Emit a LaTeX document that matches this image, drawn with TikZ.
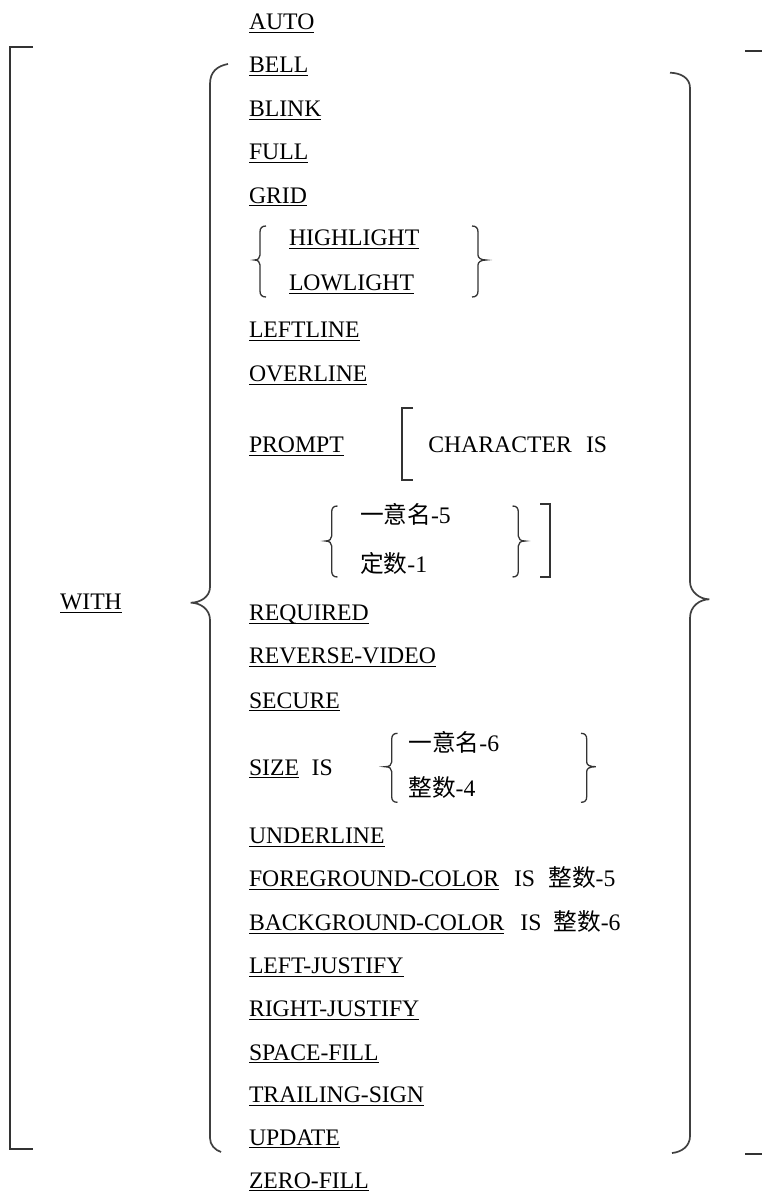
\documentclass[tikz,border=0pt]{standalone}
\usepackage{fontspec}
\setmainfont{Liberation Serif}
\newfontfamily\cjk{Noto Sans CJK SC}
\newcommand\myul[1]{\setbox0\hbox{#1}\rlap{\rule[-3.4pt]{\wd0}{1.2pt}}\box0}
\tikzset{
  lbl/.style={anchor=base west, inner sep=0pt, outer sep=0pt, font=\fontsize{23.7}{28}\selectfont, text=black},
  brk/.style={line width=1.8pt, draw=black!80},
  bigbrace/.style={line width=1.7pt, draw=black!75},
  smallbrace/.style={line width=1.3pt, draw=black!80},
}
\begin{document}
\begin{tikzpicture}[x=1pt,y=-1pt]
\useasboundingbox (0,0) rectangle (761,1191);
% main column
\node[lbl] (auto) at (249,29.3) {\myul{AUTO}};
\node[lbl] (bell) at (249,72.7) {\myul{BELL}};
\node[lbl] (blink) at (249,116.5) {\myul{BLINK}};
\node[lbl] (full) at (249,159.5) {\myul{FULL}};
\node[lbl] (grid) at (249,203) {\myul{GRID}};
\node[lbl] (high) at (289,245.7) {\myul{HIGHLIGHT}};
\node[lbl] (low) at (289,290.5) {\myul{LOWLIGHT}};
\node[lbl] (leftline) at (249,337.5) {\myul{LEFTLINE}};
\node[lbl] (overline) at (249,381.5) {\myul{OVERLINE}};
\node[lbl] (prompt) at (249,452.7) {\myul{PROMPT}};
\node[lbl] (charac) at (428.3,452.7) {CHARACTER};
\node[lbl] (is1) at (586,452.7) {IS};
\node[lbl] (id5) at (360,523) {{\cjk 一意名}-5};
\node[lbl] (const1) at (360,572.7) {{\cjk 定数}-1};
\node[lbl] (with) at (60,609.3) {\myul{WITH}};
\node[lbl] (required) at (249,620.5) {\myul{REQUIRED}};
\node[lbl] (reverse) at (249,663.7) {\myul{REVERSE-VIDEO}};
\node[lbl] (secure) at (249,708) {\myul{SECURE}};
\node[lbl] (size) at (249,775) {\myul{SIZE}};
\node[lbl] (is2) at (311.7,775) {IS};
\node[lbl] (id6) at (408.3,751) {{\cjk 一意名}-6};
\node[lbl] (int4) at (408.3,796.7) {{\cjk 整数}-4};
\node[lbl] (underline) at (249,843.3) {\myul{UNDERLINE}};
\node[lbl] (fore) at (249,886.7) {\myul{FOREGROUND-COLOR}};
\node[lbl] (is3) at (514,886.7) {IS};
\node[lbl] (int5) at (548.3,886.7) {{\cjk 整数}-5};
\node[lbl] (back) at (249,930.7) {\myul{BACKGROUND-COLOR}};
\node[lbl] (is4) at (520.4,930.7) {IS};
\node[lbl] (int6) at (553.4,930.7) {{\cjk 整数}-6};
\node[lbl] (ljust) at (249,973.3) {\myul{LEFT-JUSTIFY}};
\node[lbl] (rjust) at (249,1016.7) {\myul{RIGHT-JUSTIFY}};
\node[lbl] (space) at (249,1060) {\myul{SPACE-FILL}};
\node[lbl] (trail) at (249,1102.3) {\myul{TRAILING-SIGN}};
\node[lbl] (update) at (249,1145) {\myul{UPDATE}};
\node[lbl] (zero) at (249,1188) {\myul{ZERO-FILL}};
% outer square brackets
\draw[brk] (33,46.7) -- (10,46.7) -- (10,1149.3) -- (33,1149.3);
\draw[brk] (745,50.7) -- (765,50.7) -- (765,1154) -- (745,1154);
% big left brace
\draw[bigbrace] (228,64) .. controls (217,66) and (210,72) .. (210,84)
  -- (210,587) .. controls (210,597) and (200,602.7) .. (190.7,602.7)
  .. controls (200,602.7) and (210,609) .. (210,620)
  -- (210,1138) .. controls (210,1145) and (215,1150) .. (221,1152);
% big right brace
\draw[bigbrace] (670,72.7) .. controls (681,73) and (690,78) .. (690,88)
  -- (690,581.7) .. controls (690,592) and (700,599.3) .. (709.3,599.3)
  .. controls (700,599.3) and (690,606) .. (690,618)
  -- (690,1136) .. controls (690,1146) and (682,1152) .. (672,1153);
% HIGHLIGHT / LOWLIGHT braces
\draw[smallbrace] (266,226) .. controls (262,226) and (260,228) .. (260,232)
  -- (260,255) .. controls (260,258) and (258,260) .. (254.5,260)
  .. controls (258,260) and (260,262) .. (260,265)
  -- (260,291) .. controls (260,295) and (262,297) .. (266,297);
\draw[smallbrace] (472,226) .. controls (476,226) and (478,228) .. (478,232)
  -- (478,255) .. controls (478,258) and (481,260) .. (486,260)
  .. controls (481,260) and (478,262) .. (478,265)
  -- (478,291) .. controls (478,295) and (476,297) .. (472,297);
% PROMPT bracket
\draw[brk] (413,408) -- (401.7,408) -- (401.7,480) -- (413,480);
% id-5 / const-1 braces
\draw[smallbrace] (337.5,506) .. controls (333.5,506) and (331.7,508) .. (331.7,512)
  -- (331.7,536) .. controls (331.7,539) and (329.5,541) .. (325.5,541)
  .. controls (329.5,541) and (331.7,543) .. (331.7,546)
  -- (331.7,571) .. controls (331.7,575) and (333.5,577) .. (337.5,577);
\draw[smallbrace] (512.5,506) .. controls (516.5,506) and (518.3,508) .. (518.3,512)
  -- (518.3,536) .. controls (518.3,539) and (520.5,541) .. (525,541)
  .. controls (520.5,541) and (518.3,543) .. (518.3,546)
  -- (518.3,571) .. controls (518.3,575) and (516.5,577) .. (512.5,577);
\draw[brk] (540,504) -- (550,504) -- (550,576.7) -- (540,576.7);
% SIZE braces
\draw[smallbrace] (397.5,733.3) .. controls (393.5,733.3) and (391.7,735.3) .. (391.7,739.3)
  -- (391.7,762) .. controls (391.7,765) and (389.5,766.7) .. (385,766.7)
  .. controls (389.5,766.7) and (391.7,768.5) .. (391.7,771.5)
  -- (391.7,796.5) .. controls (391.7,800.5) and (393.5,802.3) .. (397.5,802.3);
\draw[smallbrace] (581,733.3) .. controls (585,733.3) and (586.7,735.3) .. (586.7,739.3)
  -- (586.7,762) .. controls (586.7,765) and (589.5,766.7) .. (595.7,766.7)
  .. controls (589.5,766.7) and (586.7,768.5) .. (586.7,771.5)
  -- (586.7,796.5) .. controls (586.7,800.5) and (585,802.3) .. (581,802.3);
\end{tikzpicture}
\end{document}
